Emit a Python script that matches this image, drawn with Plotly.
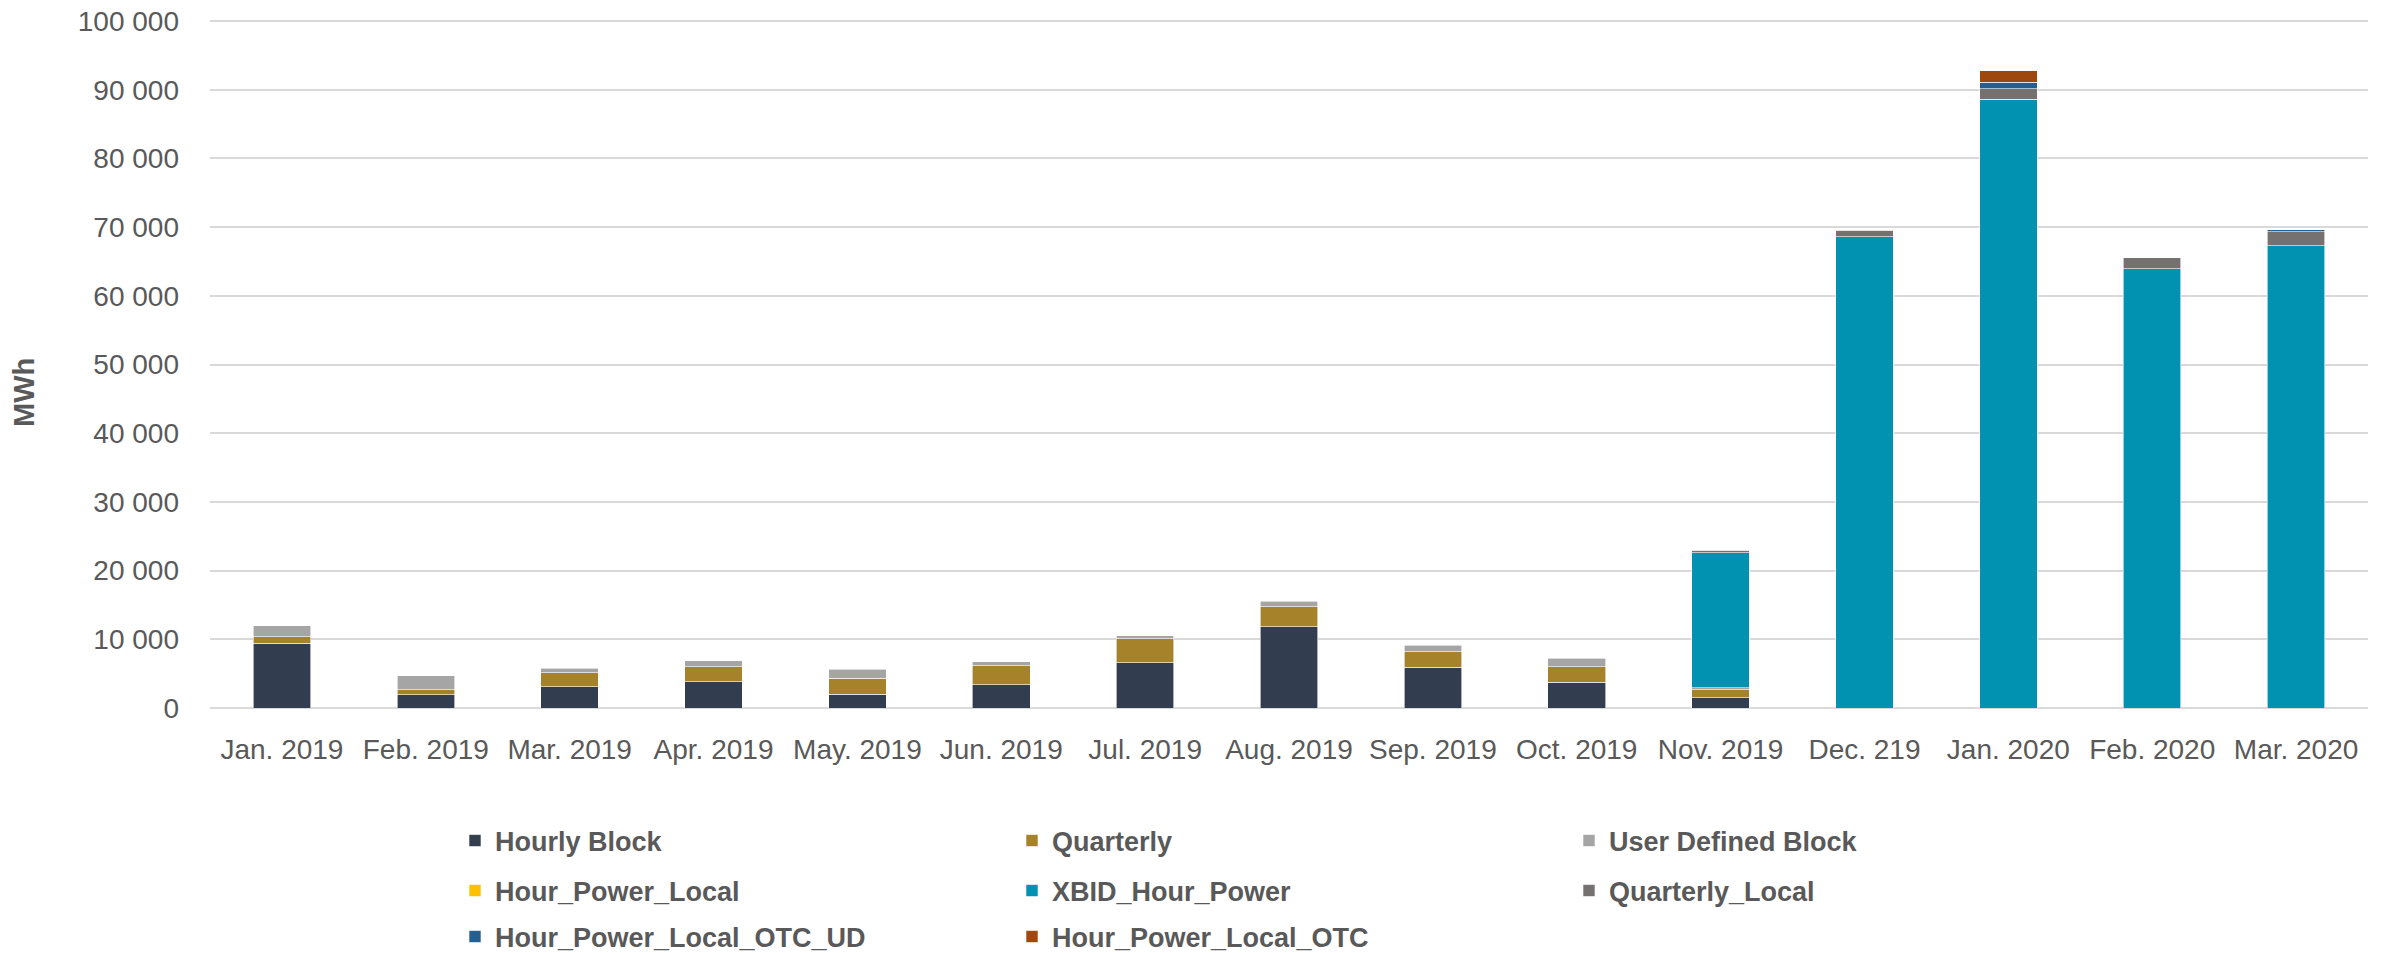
import plotly.graph_objects as go

months = ["Jan. 2019", "Feb. 2019", "Mar. 2019", "Apr. 2019", "May. 2019", "Jun. 2019",
          "Jul. 2019", "Aug. 2019", "Sep. 2019", "Oct. 2019", "Nov. 2019", "Dec. 219",
          "Jan. 2020", "Feb. 2020", "Mar. 2020"]

hourly_block = [9400, 1900, 3080, 3800, 2000, 3370, 6590, 11860, 5900, 3760, 1460, 0, 0, 0, 0]
quarterly = [950, 730, 2050, 2200, 2340, 2780, 3510, 2880, 2300, 2240, 1170, 0, 0, 0, 0]
user_defined_block = [1600, 2100, 690, 880, 1320, 590, 390, 830, 930, 1220, 290, 0, 0, 0, 0]
hour_power_local = [0, 0, 0, 0, 0, 0, 0, 0, 0, 0, 0, 0, 0, 0, 0]
xbid_hour_power = [0, 0, 0, 0, 0, 0, 0, 0, 0, 0, 19650, 68590, 88590, 63910, 67260]
quarterly_local = [0, 0, 0, 0, 0, 0, 0, 0, 0, 0, 400, 880, 1550, 1670, 2060]
hour_power_local_otc_ud = [0, 0, 0, 0, 0, 0, 0, 0, 0, 0, 100, 0, 920, 0, 300]
hour_power_local_otc = [0, 0, 0, 0, 0, 0, 0, 0, 0, 0, 0, 100, 1700, 0, 0]

series = [
    ("Hourly Block", hourly_block, "#323E4F", "legend"),
    ("Quarterly", quarterly, "#A6822A", "legend"),
    ("User Defined Block", user_defined_block, "#A5A5A5", "legend"),
    ("Hour_Power_Local", hour_power_local, "#FFC000", "legend2"),
    ("XBID_Hour_Power", xbid_hour_power, "#0092B0", "legend2"),
    ("Quarterly_Local", quarterly_local, "#767171", "legend2"),
    ("Hour_Power_Local_OTC_UD", hour_power_local_otc_ud, "#255E91", "legend3"),
    ("Hour_Power_Local_OTC", hour_power_local_otc, "#9E480E", "legend3"),
]

fig = go.Figure()
for name, vals, color, leg in series:
    fig.add_trace(go.Bar(
        name=name, x=months, y=[v if v else None for v in vals],
        marker=dict(color=color, line=dict(color="#FFFFFF", width=0.6)),
        legend=leg,
    ))

TEXT = "#595959"
FONT = "Liberation Sans, Arial, sans-serif"

W, H = 2392, 953
YMAX = 100300
L, R, B = 210, 24, 245
ph = (H - B - 21) * YMAX / 100000
T = int(round(H - B - ph))
pw = W - L - R

def lx(px):
    return (px - L) / pw

def ly(py):
    return (H - B - py) / ph

def cy(py):
    return 1 - py / H

leg_common = dict(orientation="h", xanchor="left", yanchor="middle",
                  xref="paper", yref="container",
                  entrywidth=512, entrywidthmode="pixels",
                  font=dict(family=FONT, size=27, color=TEXT, weight="bold"),
                  bgcolor="rgba(0,0,0,0)", traceorder="normal", itemclick=False)

fig.update_layout(
    width=W, height=H, autosize=False,
    margin=dict(l=L, r=R, t=T, b=B, autoexpand=False),
    barmode="stack", bargap=0.6,
    plot_bgcolor="white", paper_bgcolor="white",
    separators=". ",
    showlegend=True,
    legend=dict(x=lx(455), y=cy(841), **leg_common),
    legend2=dict(x=lx(455), y=cy(891), **leg_common),
    legend3=dict(x=lx(455), y=cy(937), **leg_common),
    xaxis=dict(
        type="category", showgrid=False, showline=False, ticks="",
        tickfont=dict(family=FONT, size=28, color=TEXT),
        ticklabelstandoff=22, automargin=False,
    ),
    yaxis=dict(
        range=[0, YMAX], tickvals=list(range(0, 100001, 10000)), tickformat=",d",
        showgrid=True, gridcolor="#D9D9D9", gridwidth=2,
        zeroline=True, zerolinecolor="#D9D9D9", zerolinewidth=2,
        showline=False, ticks="", automargin=False,
        ticklabeloverflow="allow",
        tickfont=dict(family=FONT, size=28, color=TEXT),
        ticklabelstandoff=30,
    ),
    annotations=[dict(
        text="MWh", xref="paper", yref="paper", x=lx(24), y=ly(393),
        xanchor="center", yanchor="middle", textangle=-90, showarrow=False,
        font=dict(family=FONT, size=29, color=TEXT, weight="bold"),
    )],
)

fig.write_html("out.html",
               config={"displayModeBar": False},
               post_script="document.body.style.margin='0';document.body.style.overflow='hidden';")
